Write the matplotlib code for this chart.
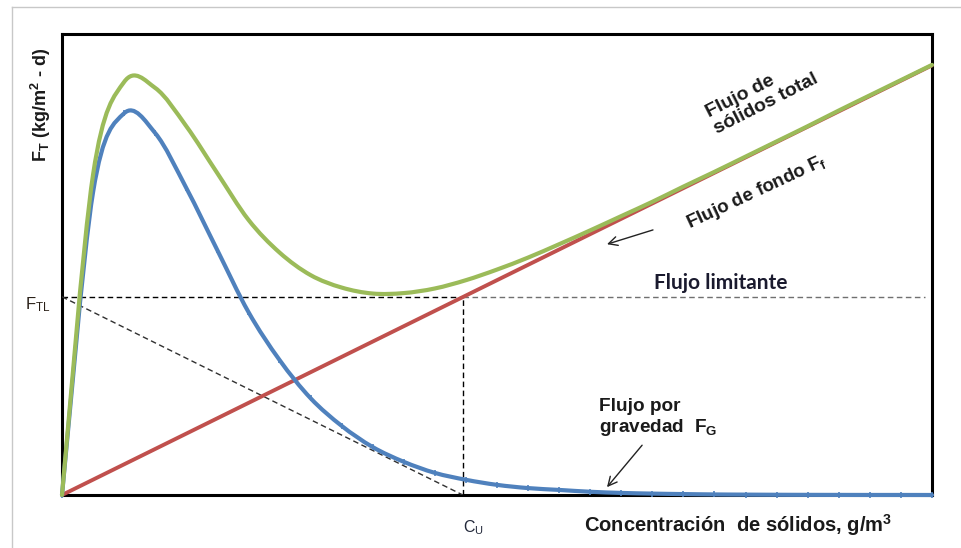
import numpy as np
import matplotlib
matplotlib.use("Agg")
import matplotlib.pyplot as plt
from matplotlib.path import Path
from matplotlib.patches import PathPatch
from matplotlib.lines import Line2D

# ---- data -------------------------------------------------------------
conc = list(range(29))
gravity_flux = [0, 65.7, 82.8, 78.5, 66.6, 53.1, 39.7, 29.3, 21.0, 15.0,
                10.4, 7.2, 4.8, 3.3, 2.2, 1.5, 1.1, 0.7, 0.45, 0.3,
                0.2, 0.12, 0.08, 0.05, 0.03, 0.02, 0.01, 0.01, 0]
total_flux = [0, 69.5, 89.6, 88.3, 80.0, 69.8, 59.7, 52.6, 47.7, 45.0,
              43.7, 43.8, 44.8, 46.6, 48.9, 51.5, 54.4, 57.4, 60.5, 63.6,
              66.9, 70.1, 73.4, 76.7, 80.0, 83.4, 86.7, 90.0, 93.3]
bottom_conc = [0, 28]
bottom_flux = [0, 93.2]
F_TL = 43.0
C_U = 12.9

BLUE = "#4F81BD"
GREEN = "#9BBB59"
RED = "#C0504D"

plt.rcParams["font.family"] = ["Liberation Sans", "DejaVu Sans"]
plt.rcParams["mathtext.default"] = "regular"


def smooth_path(xs, ys):
    """Cubic Bezier path through the points (Catmull-Rom style smoothing)."""
    pts = np.column_stack([xs, ys]).astype(float)
    n = len(pts)
    verts = [pts[0]]
    codes = [Path.MOVETO]
    for i in range(n - 1):
        p0 = pts[i - 1] if i > 0 else pts[i]
        p1 = pts[i]
        p2 = pts[i + 1]
        p3 = pts[i + 2] if i + 2 < n else pts[i + 1]
        verts += [p1 + (p2 - p0) / 6.0, p2 - (p3 - p1) / 6.0, p2]
        codes += [Path.CURVE4] * 3
    return Path(verts, codes)


fig = plt.figure(figsize=(9.62, 5.48), dpi=100)
ax = fig.add_axes([62 / 962, 53 / 548, 870 / 962, 461 / 548])
ax.set_xlim(0, 28)
ax.set_ylim(0, 100)
ax.set_xticks([])
ax.set_yticks([])
for sp in ax.spines.values():
    sp.set_linewidth(2.2)
    sp.set_color("black")
    sp.set_zorder(1)

# outer light frame
fig.add_artist(Line2D([12 / 962, 1.0], [1 - 7 / 548] * 2, color="#c8c8c8",
                      lw=1.0, transform=fig.transFigure))
fig.add_artist(Line2D([12 / 962] * 2, [0.0, 1 - 7 / 548], color="#c8c8c8",
                      lw=1.0, transform=fig.transFigure))

# limiting flux construction
dash = dict(lw=1.0, dashes=(4, 2.5))
ax.plot([0, C_U], [F_TL, F_TL], color="black", zorder=2, **dash)
ax.plot([C_U, 27.78], [F_TL, F_TL], color="#707070", zorder=2, **dash)
ax.plot([C_U, C_U], [0, F_TL], color="black", zorder=2, **dash)
ax.plot([0, C_U], [F_TL, 0], color="#303030", zorder=2, **dash)

# flux curves
ax.add_patch(PathPatch(smooth_path(conc, gravity_flux), fill=False,
                       edgecolor=BLUE, lw=3.0, capstyle="round",
                       joinstyle="round", clip_on=False, zorder=4))
ax.plot(conc, gravity_flux, ls="none", marker="|", ms=5, mew=1.2,
        color=BLUE, clip_on=False, zorder=4)
ax.plot(bottom_conc, bottom_flux, color=RED, lw=2.8, solid_capstyle="round",
        clip_on=False, zorder=3)
ax.add_patch(PathPatch(smooth_path(conc, total_flux), fill=False,
                       edgecolor=GREEN, lw=3.0, capstyle="round",
                       joinstyle="round", clip_on=False, zorder=5))

# labels
bold = dict(fontweight="bold", color="#1a1a1a")
ax.text(-0.676, 84.6, "F$_T$ (kg/m$^2$ - d)", rotation=90, ha="center",
        va="center", fontsize=13, clip_on=False, **bold)
ax.text(-1.19, 40.3, "F$_{TL}$", ha="left", va="baseline", fontsize=12,
        color="#2a2018", clip_on=False)
ax.text(12.90, -8.03, "C$_U$", ha="left", va="baseline", fontsize=11.5,
        color="#22283a", clip_on=False)
ax.text(16.80, -8.03, "Concentración  de sólidos, g/m$^3$", ha="left",
        va="baseline", fontsize=14.5, clip_on=False, **bold)
ax.text(22.53, 86.6, "Flujo de\nsólidos total", rotation=27, ha="center",
        va="center", multialignment="left", rotation_mode="anchor",
        fontsize=14, linespacing=1.1, **bold)
ax.text(22.37, 65.7, "Flujo de fondo F$_f$", rotation=25, ha="center",
        va="center", rotation_mode="anchor", fontsize=13.5, **bold)
ax.text(21.21, 46.0, "Flujo limitante", ha="center", va="center",
        fontsize=15, fontfamily=["Lato", "DejaVu Sans"], fontweight="bold",
        color="#1a1a2e")
ax.text(17.28, 21.0, "Flujo por\ngravedad  F$_G$", ha="left", va="top",
        fontsize=13.7, linespacing=1.15, **bold)

arrow = dict(arrowstyle="->", lw=1.0, color="#222222", mutation_scale=16,
             shrinkA=0, shrinkB=0)
ax.annotate("", xy=(17.54, 54.4), xytext=(19.02, 57.5), arrowprops=arrow)
ax.annotate("", xy=(17.54, 1.7), xytext=(18.67, 10.8), arrowprops=arrow)

fig.savefig("out.png", dpi=100)
